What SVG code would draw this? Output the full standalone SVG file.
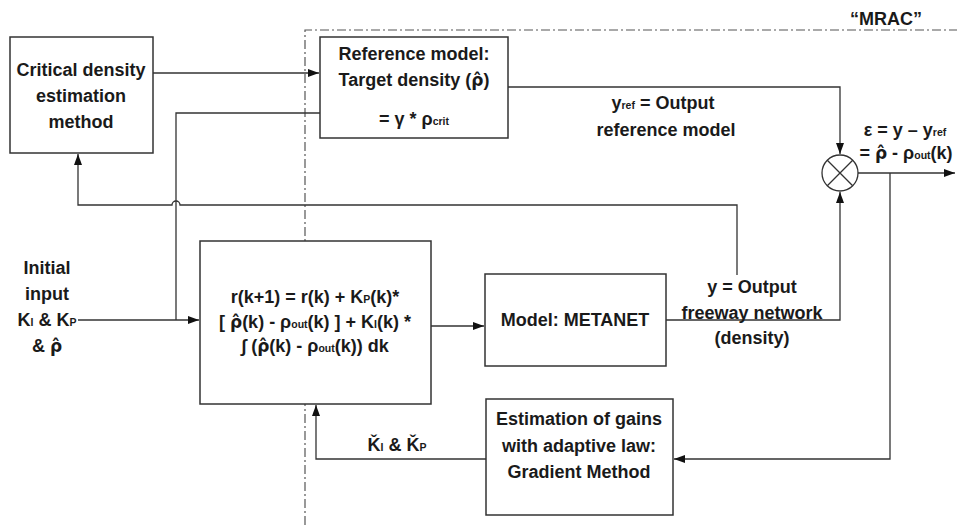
<svg xmlns="http://www.w3.org/2000/svg" width="957" height="529" viewBox="0 0 957 529">
<style>
text{font-family:"Liberation Sans",Arial,sans-serif;font-weight:bold;font-size:18px;fill:#1a1a1a;text-anchor:middle}
.s{font-size:10.5px}
.r{font-family:"DejaVu Sans",sans-serif;font-size:17px}
.box{fill:#fff;stroke:#333;stroke-width:1.5}
.ln{fill:none;stroke:#333;stroke-width:1.3}
.dd{fill:none;stroke:#555;stroke-width:1.2;stroke-dasharray:9 3 2 3}
</style>
<defs>
<marker id="ah" markerUnits="userSpaceOnUse" markerWidth="12" markerHeight="10" refX="11" refY="4" orient="auto">
<path d="M0,0 L11,4 L0,8 Z" fill="#111"/>
</marker>
</defs>
<rect width="957" height="529" fill="#fff"/>
<path class="dd" d="M305,525 L305,30 L957,30"/>
<text x="886" y="25">“MRAC”</text>
<g id="connectors">
<path class="ln" d="M153,73 L319,73" marker-end="url(#ah)"/>
<path class="ln" d="M508,87 L840,87 L840,154" marker-end="url(#ah)"/>
<path class="ln" d="M858,173 L955,173" marker-end="url(#ah)"/>
<path class="ln" d="M890,173 L890,459 L674,459" marker-end="url(#ah)"/>
<path class="ln" d="M78,320 L199,320" marker-end="url(#ah)"/>
<path class="ln" d="M176,320 L176,113 L320,113"/>
<path class="ln" d="M737,275 L737,205 L180,205 A4,4 0 0 0 172,205 L78,205 L78,154" marker-end="url(#ah)"/>
<path class="ln" d="M431,326 L484,326" marker-end="url(#ah)"/>
<path class="ln" d="M666,320 L840,320 L840,192" marker-end="url(#ah)"/>
<path class="ln" d="M486,459 L316,459 L316,405" marker-end="url(#ah)"/>
</g>
<g id="critical">
<rect class="box" x="10" y="37" width="143" height="116"/>
<text x="81" y="76">Critical density</text>
<text x="81" y="102">estimation</text>
<text x="81" y="128">method</text>
</g>
<g id="reference">
<rect class="box" x="320" y="37" width="188" height="101"/>
<text x="414" y="60">Reference model:</text>
<text x="414" y="86">Target density (<tspan class="r">ρ̂</tspan>)</text>
<text x="414" y="125">= γ *  ρ<tspan class="s">crit</tspan></text>
</g>
<g id="sum">
<circle cx="840" cy="173" r="18" fill="#fff" stroke="#333" stroke-width="1.3"/>
<path class="ln" d="M827.3,160.3 L852.7,185.7 M852.7,160.3 L827.3,185.7"/>
</g>
<g id="controller">
<rect class="box" x="200" y="241" width="231" height="163"/>
<text x="315" y="303">r(k+1) = r(k) + K<tspan class="s">P</tspan>(k)*</text>
<text x="315" y="328">[ <tspan class="r">ρ̂</tspan>(k) - ρ<tspan class="s">out</tspan>(k) ] + K<tspan class="s">I</tspan>(k) *</text>
<text x="315" y="352">∫ (<tspan class="r">ρ̂</tspan>(k) - ρ<tspan class="s">out</tspan>(k)) dk</text>
</g>
<g id="metanet">
<rect class="box" x="485" y="274" width="181" height="92"/>
<text x="575" y="326">Model: METANET</text>
</g>
<g id="estimation">
<rect class="box" x="486" y="399" width="187" height="116"/>
<text x="579" y="425">Estimation of gains</text>
<text x="579" y="452">with adaptive law:</text>
<text x="579" y="478">Gradient Method</text>
</g>
<g id="labels">
<text x="47" y="274">Initial</text>
<text x="47" y="300">input</text>
<text x="47" y="326">K<tspan class="s">I</tspan> &amp; K<tspan class="s">P</tspan></text>
<text x="47" y="352">&amp; <tspan class="r">ρ̂</tspan></text>
<text x="663" y="109">y<tspan class="s">ref</tspan> = Output</text>
<text x="666" y="136">reference model</text>
<text x="905" y="136">ε = y – y<tspan class="s">ref</tspan></text>
<text x="906" y="159">= <tspan class="r">ρ̂</tspan> - ρ<tspan class="s">out</tspan>(k)</text>
<text x="752" y="293">y = Output</text>
<text x="752" y="319">freeway network</text>
<text x="752" y="344">(density)</text>
<text x="397" y="451">Ǩ<tspan class="s">I</tspan> &amp;  Ǩ<tspan class="s">P</tspan></text>
</g>
</svg>
